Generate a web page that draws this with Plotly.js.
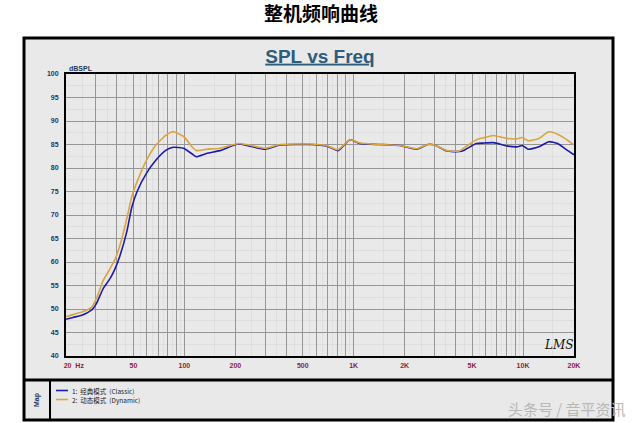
<!DOCTYPE html>
<html><head><meta charset="utf-8">
<script src="https://cdn.plot.ly/plotly-3.0.1.min.js"></script>
<style>html,body{margin:0;padding:0;background:#fff}#chart{width:640px;height:423px}</style>
</head><body><div id="chart"></div>
<script>
// Frequencies (Hz)
const freq = [20, 22, 25, 28.4, 30.3, 33.1, 36.3, 39, 41.7, 45.7, 48.9, 52.6, 59.8, 68, 78, 86, 99, 113, 118, 135, 162, 208, 240, 300, 367, 550, 700, 808, 952, 1090, 1400, 1870, 2360, 2740, 3000, 3550, 4200, 4500, 5300, 5800, 6700, 8000, 9200, 9900, 10700, 12400, 14200, 16000, 18200, 20000];
// 1: Classic (blue)
const classic = [47.8, 48.2, 48.7, 49.8, 51.2, 54.3, 56.4, 58.6, 61.4, 66.4, 71.6, 75.0, 78.9, 81.7, 83.8, 84.4, 84.2, 82.8, 82.4, 83.1, 83.7, 85.1, 84.7, 84.0, 84.9, 85.0, 84.6, 83.7, 86.0, 85.2, 85.0, 84.8, 84.0, 85.0, 84.9, 83.6, 83.5, 83.8, 85.2, 85.3, 85.4, 84.7, 84.5, 84.8, 84.0, 84.5, 85.6, 85.2, 83.8, 82.8];
// 2: Dynamic (orange)
const dynamic = [48.4, 48.8, 49.4, 50.4, 52.3, 56.0, 58.5, 60.6, 63.6, 69.2, 73.9, 77.1, 81.7, 84.9, 87.0, 87.7, 86.7, 84.2, 83.7, 84.0, 84.2, 85.2, 84.9, 84.2, 85.0, 85.1, 84.7, 83.9, 86.0, 85.3, 85.0, 84.8, 84.1, 85.0, 84.9, 83.7, 83.6, 84.3, 86.0, 86.4, 86.9, 86.3, 86.2, 86.5, 85.8, 86.3, 87.7, 87.2, 86.0, 84.9];

const seriesNames = ['1:  经典模式  (Classic)', '2:  动态模式  (Dynamic)'];
const xMajor = [20,30,40,50,60,70,80,90,100,200,300,400,500,600,700,800,900,1000,2000,3000,4000,5000,6000,7000,8000,9000,10000,20000];
const xLabels = {20:'\u00a0\u00a0\u00a0\u00a0\u00a0\u00a0\u00a0\u00a020\u00a0\u00a0Hz',50:'50',100:'100',200:'200',500:'500',1000:'1K',2000:'2K',5000:'5K',10000:'10K',20000:'20K'};
const xMinor = [25,35,45,55,65,75,85,95,150,250,350,450,550,650,750,850,950,1500,2500,3500,4500,5500,6500,7500,8500,9500,15000];

const blue = '#1c1ca8', gold = '#d9a441';
const P = (px) => (px - 66) / 508;      // pixel x -> paper x
const Q = (py) => (356 - py) / 282;     // pixel y -> paper y

const traces = [
  {x: freq, y: classic, name: seriesNames[0], mode: 'lines', line: {color: blue, width: 1.6, shape: 'spline', smoothing: 0.5}},
  {x: freq, y: dynamic, name: seriesNames[1], mode: 'lines', line: {color: gold, width: 1.6, shape: 'spline', smoothing: 0.5}}
];

const tickFont = {family: 'Liberation Sans, Arial', size: 7, weight: 'bold'};
const layout = {
  width: 640, height: 423,
  margin: {l: 66, r: 66, t: 74, b: 67, pad: 0},
  paper_bgcolor: '#ffffff', plot_bgcolor: '#ffffff',
  showlegend: false,
  title: {text: '<u>SPL vs Freq</u>', x: 0.5, xref: 'paper', xanchor: 'center', y: 1 - 56/423, yref: 'container', yanchor: 'middle',
          font: {family: 'Liberation Sans, Arial', size: 19, color: '#2d5d7b', weight: 'bold'}},
  xaxis: {type: 'log', range: [Math.log10(20), Math.log10(20000)], tickmode: 'array', tickvals: xMajor,
          ticktext: xMajor.map(v => xLabels[v] || ''), showgrid: true, gridcolor: '#969696', gridwidth: 1,
          ticks: '', tickfont: Object.assign({color: '#8b1e3f'}, tickFont), ticklabelstandoff: 2,
          showline: true, mirror: true, linecolor: '#000', linewidth: 2, zeroline: false,
          minor: {tickmode: 'array', tickvals: xMinor, showgrid: true, gridcolor: '#dedede', gridwidth: 1}},
  yaxis: {range: [40, 100], tickmode: 'linear', tick0: 40, dtick: 5, showgrid: true, gridcolor: '#969696', gridwidth: 1,
          ticks: '', tickfont: Object.assign({color: '#1f3760'}, tickFont), ticklabelstandoff: 4,
          showline: true, mirror: true, linecolor: '#000', linewidth: 2, zeroline: false,
          minor: {dtick: 2.5, showgrid: true, gridcolor: '#dedede', gridwidth: 1}},
  shapes: [
    {type: 'rect', xref: 'paper', yref: 'paper', x0: P(24), x1: P(613), y0: Q(420), y1: Q(38), fillcolor: '#e9e9e9', line: {color: '#000', width: 3}, layer: 'below'},
    {type: 'line', xref: 'paper', yref: 'paper', x0: P(24), x1: P(613), y0: Q(380), y1: Q(380), line: {color: '#000', width: 3}},
    {type: 'line', xref: 'paper', yref: 'paper', x0: P(50), x1: P(50), y0: Q(380), y1: Q(420), line: {color: '#000', width: 2}},
    {type: 'line', xref: 'paper', yref: 'paper', x0: P(56), x1: P(68), y0: Q(390.5), y1: Q(390.5), line: {color: blue, width: 1.6}},
    {type: 'line', xref: 'paper', yref: 'paper', x0: P(56), x1: P(68), y0: Q(399.5), y1: Q(399.5), line: {color: gold, width: 1.6}}
  ],
  annotations: [
    {text: '<b>整机频响曲线</b>', xref: 'paper', yref: 'paper', x: P(321), y: Q(12), xanchor: 'center', yanchor: 'middle', showarrow: false,
     font: {family: 'Noto Sans CJK SC', size: 19, color: '#000'}},
    {text: '<b>dBSPL</b>', xref: 'paper', yref: 'paper', x: P(67), y: Q(68), xanchor: 'left', yanchor: 'middle', showarrow: false,
     font: {family: 'Liberation Sans, Arial', size: 7, color: '#1f3760'}},
    {text: 'LMS', xref: 'paper', yref: 'paper', x: P(558), y: Q(345), xanchor: 'center', yanchor: 'middle', showarrow: false,
     font: {family: 'DejaVu Serif', size: 12, color: '#111', style: 'italic'}},
    {text: '<b>Map</b>', xref: 'paper', yref: 'paper', x: P(37), y: Q(400), xanchor: 'center', yanchor: 'middle', textangle: -90, showarrow: false,
     font: {family: 'Liberation Sans, Arial', size: 7, color: '#1f3760'}},
    {text: seriesNames[0], xref: 'paper', yref: 'paper', x: P(70), y: Q(390.5), xanchor: 'left', yanchor: 'middle', showarrow: false,
     font: {family: 'Noto Sans CJK SC, Liberation Sans', size: 6.5, color: '#222'}},
    {text: seriesNames[1], xref: 'paper', yref: 'paper', x: P(70), y: Q(399.5), xanchor: 'left', yanchor: 'middle', showarrow: false,
     font: {family: 'Noto Sans CJK SC, Liberation Sans', size: 6.5, color: '#222'}},
    {text: '头条号 / 音平资讯', xref: 'paper', yref: 'paper', x: P(567), y: Q(408), xanchor: 'center', yanchor: 'middle', showarrow: false,
     font: {family: 'Noto Sans CJK SC', size: 15, color: '#b8b8b8'}}
  ]
};

Plotly.newPlot('chart', traces, layout, {staticPlot: true, displayModeBar: false});
</script>
</body></html>
